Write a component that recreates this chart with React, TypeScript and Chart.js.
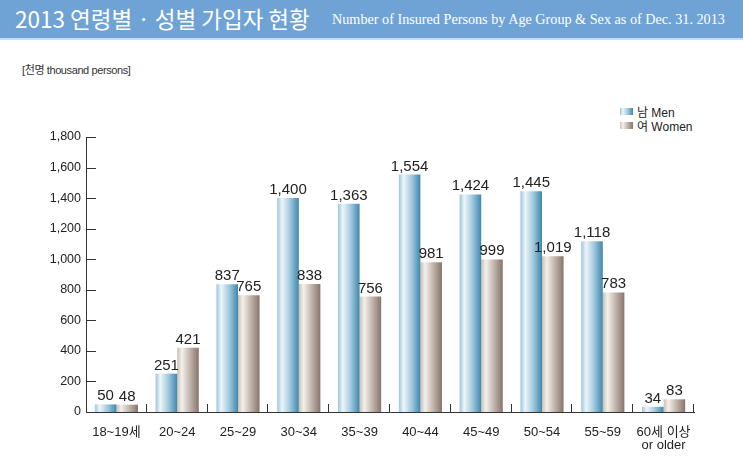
import React, { useEffect, useRef } from "react";
import { Chart, registerables } from "chart.js";

Chart.register(...registerables);

const categories: (string | string[])[] = [
  "18~19세", "20~24", "25~29", "30~34", "35~39", "40~44", "45~49", "50~54", "55~59", ["60세 이상", "or older"],
];
const menValues = [50, 251, 837, 1400, 1363, 1554, 1424, 1445, 1118, 34];
const womenValues = [48, 421, 765, 838, 756, 981, 999, 1019, 783, 83];
const yMax = 1800;
const yStep = 200;

const CAT_PCT = 0.71;
const FONT = "'Liberation Sans', Arial, 'Noto Sans CJK KR', sans-serif";

const menStops: [number, string][] = [
  [0, "#9cc5db"], [0.22, "#eef6fa"], [0.6, "#9fc8dd"], [1, "#3f87ab"],
];
const womenStops: [number, string][] = [
  [0, "#cbbfb4"], [0.22, "#f3f0eb"], [0.6, "#c0b3aa"], [1, "#88746c"],
];

function gradFill(stops: [number, string][], isMen: boolean) {
  return (c: any) => {
    const chart = c.chart;
    const xs = chart.scales && chart.scales.x;
    if (c.type !== "data" || !xs || !chart.chartArea) return stops[stops.length - 1][1];
    const n = categories.length;
    const cw = (xs.right - xs.left) / n;
    const bw = (cw * CAT_PCT) / 2;
    const center = xs.getPixelForValue(c.dataIndex);
    const x0 = isMen ? center - bw : center;
    const g = chart.ctx.createLinearGradient(x0, 0, x0 + bw, 0);
    stops.forEach(([o, col]) => g.addColorStop(o, col));
    return g;
  };
}

const fmt = (v: number) => v.toLocaleString("en-US");

const axisTicksPlugin = {
  id: "axisTicks",
  afterDraw(chart: any) {
    const { ctx } = chart;
    const xs = chart.scales.x;
    const ys = chart.scales.y;
    ctx.save();
    ctx.strokeStyle = "#333";
    ctx.lineWidth = 1;
    ctx.beginPath();
    ys.ticks.forEach((t: any) => {
      if (t.value <= 0) return;
      const py = Math.round(ys.getPixelForValue(t.value)) + 0.5;
      ctx.moveTo(chart.chartArea.left, py);
      ctx.lineTo(chart.chartArea.left + 10, py);
    });
    const n = categories.length;
    const cw = (xs.right - xs.left) / n;
    for (let i = 1; i <= n; i++) {
      const bx = Math.round(xs.left + i * cw) - 0.5;
      ctx.moveTo(bx, chart.chartArea.bottom);
      ctx.lineTo(bx, chart.chartArea.bottom - 8);
    }
    ctx.stroke();
    ctx.restore();
  },
};

const valueLabelPlugin = {
  id: "valueLabels",
  afterDatasetsDraw(chart: any) {
    const { ctx } = chart;
    ctx.save();
    ctx.font = `15px ${FONT}`;
    ctx.fillStyle = "#222";
    ctx.textAlign = "center";
    ctx.textBaseline = "alphabetic";
    chart.data.datasets.forEach((ds: any, di: number) => {
      const meta = chart.getDatasetMeta(di);
      meta.data.forEach((el: any, i: number) => {
        ctx.fillText(fmt(ds.data[i]), el.x, el.y - 4);
      });
    });
    ctx.restore();
  },
};

export default function App() {
  const ref = useRef<HTMLCanvasElement | null>(null);
  useEffect(() => {
    if (!ref.current) return;
    const chart = new Chart(ref.current, {
      type: "bar",
      data: {
        labels: categories as any,
        datasets: [
          { label: "남 Men", data: menValues, backgroundColor: gradFill(menStops, true) as any },
          { label: "여 Women", data: womenValues, backgroundColor: gradFill(womenStops, false) as any },
        ],
      },
      options: {
        animation: false,
        responsive: false,
        devicePixelRatio: 1,
        datasets: { bar: { categoryPercentage: CAT_PCT, barPercentage: 1 } },
        layout: { padding: { top: 137, right: 49, left: 0, bottom: 0 } },
        plugins: { legend: { display: false }, tooltip: { enabled: false } },
        scales: {
          x: {
            grid: { display: false },
            border: { display: true, color: "#333", width: 1 },
            ticks: {
              font: { family: FONT, size: 13, lineHeight: 1.0 },
              color: "#222",
              padding: 6,
              maxRotation: 0,
              autoSkip: false,
            },
            afterFit: (s: any) => { s.height = 49; },
          },
          y: {
            min: 0,
            max: yMax,
            grid: { display: false, drawTicks: false },
            border: { display: true, color: "#333", width: 1 },
            ticks: {
              stepSize: yStep,
              font: { family: FONT, size: 12.5 },
              color: "#222",
              padding: 5,
              callback: (v: any) => fmt(Number(v)),
            },
            afterFit: (s: any) => { s.width = 86; },
          },
        },
      },
      plugins: [axisTicksPlugin, valueLabelPlugin],
    });
    return () => chart.destroy();
  }, []);

  const swatch = (stops: [number, string][]) =>
    `linear-gradient(to right, ${stops.map(([o, c]) => `${c} ${o * 100}%`).join(", ")})`;

  return (
    <div style={{ position: "absolute", left: 0, top: 0, width: 743, height: 461, background: "#fff", overflow: "hidden" }}>
      <div style={{ position: "absolute", left: 0, top: 0, width: 743, height: 38, background: "#6fa3d6", borderBottom: "2px solid #c9dcef" }}>
        <span style={{ position: "absolute", left: 15, top: 4, fontFamily: "'Noto Sans CJK KR', sans-serif", fontSize: 22.5, lineHeight: "28px", color: "#fff", letterSpacing: 0 }}>
          2013 연령별 · 성별 가입자 현황
        </span>
        <span style={{ position: "absolute", left: 332, top: 11, fontFamily: "'Liberation Serif', 'Times New Roman', serif", fontSize: 14.2, lineHeight: "17px", color: "#fff" }}>
          Number of Insured Persons by Age Group &amp; Sex as of Dec. 31. 2013
        </span>
      </div>
      <div style={{ position: "absolute", left: 22, top: 63, fontFamily: FONT, fontSize: 11, lineHeight: "14px", color: "#333", letterSpacing: -0.4 }}>
        [천명 thousand persons]
      </div>
      <div style={{ position: "absolute", left: 620, top: 104, fontFamily: FONT, fontSize: 12, color: "#222" }}>
        <div style={{ display: "flex", alignItems: "center", height: 14 }}>
          <span style={{ display: "inline-block", width: 13, height: 7, background: swatch(menStops), marginRight: 4 }} />
          남 Men
        </div>
        <div style={{ display: "flex", alignItems: "center", height: 14 }}>
          <span style={{ display: "inline-block", width: 13, height: 7, background: swatch(womenStops), marginRight: 4 }} />
          여 Women
        </div>
      </div>
      <canvas ref={ref} width={743} height={461} style={{ position: "absolute", left: 0, top: 0, width: 743, height: 461 }} />
    </div>
  );
}
